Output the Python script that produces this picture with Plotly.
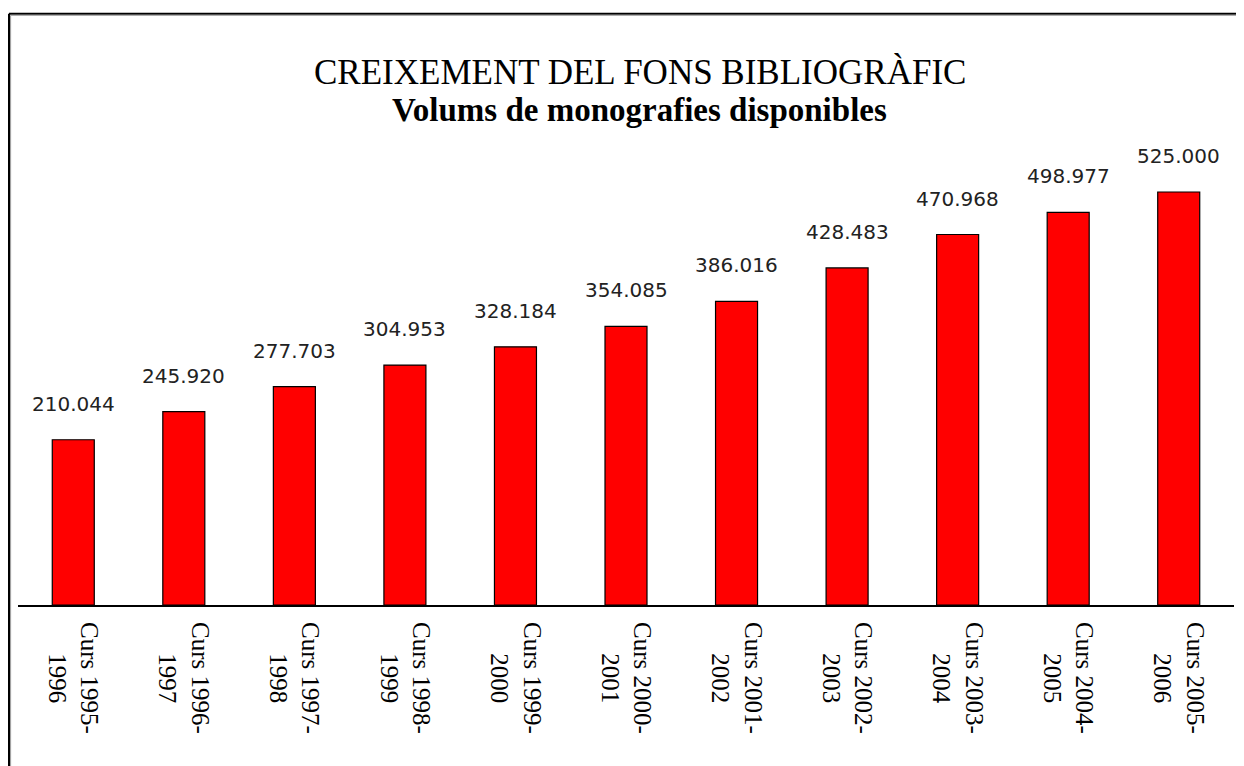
import plotly.graph_objects as go

label_line1 = ["Curs 1995-", "Curs 1996-", "Curs 1997-", "Curs 1998-", "Curs 1999-", "Curs 2000-",
               "Curs 2001-", "Curs 2002-", "Curs 2003-", "Curs 2004-", "Curs 2005-"]
label_line2 = ["1996", "1997", "1998", "1999", "2000", "2001", "2002", "2003", "2004", "2005", "2006"]
volums = [210044, 245920, 277703, 304953, 328184, 354085, 386016, 428483, 470968, 498977, 525000]
title_text = "CREIXEMENT DEL FONS BIBLIOGRÀFIC"
subtitle_text = "Volums de monografies disponibles"


def fmt(v):
    return f"{v:,}".replace(",", ".")


# second line visually centred under the first (non-breaking spaces as indent)
ticktext = [a + "<br>" + "\u00a0" * 5 + b for a, b in zip(label_line1, label_line2)]
xs = list(range(len(volums)))

fig = go.Figure()
fig.add_trace(go.Bar(
    x=xs,
    y=volums,
    width=0.38,
    marker=dict(color="#FF0000", line=dict(color="black", width=1.2)),
    hoverinfo="skip",
))

for i, v in zip(xs, volums):
    fig.add_annotation(x=i, y=v, text=fmt(v), showarrow=False, yanchor="bottom",
                       yshift=22, font=dict(family="DejaVu Sans", size=20, color="#222222"))

fig.add_annotation(x=0.5115, y=1, xref="paper", yref="paper", text=title_text, showarrow=False,
                   xanchor="center", yanchor="middle", yshift=58,
                   font=dict(family="Liberation Serif", size=35, color="black"))
fig.add_annotation(x=0.5115, y=1, xref="paper", yref="paper", text="<b>" + subtitle_text + "</b>",
                   showarrow=False, xanchor="center", yanchor="middle", yshift=20,
                   font=dict(family="Liberation Serif", size=33, color="black"))

# outer frame (left and top edges visible)
W = 1216.0
H = 475.0
fx = (1 - 10) / W
fy = 1 + (122 - 5.7) / H
fig.add_shape(type="line", xref="paper", yref="paper", x0=fx, x1=2.0, y0=fy, y1=fy,
              line=dict(color="black", width=2))
fig.add_shape(type="line", xref="paper", yref="paper", x0=fx, x1=fx, y0=-2.0, y1=fy,
              line=dict(color="black", width=2))
fig.add_shape(type="line", xref="paper", yref="paper", x0=fx + 1.6 / W, x1=2.0, y0=fy - 1.6 / H, y1=fy - 1.6 / H,
              line=dict(color="#999999", width=1))
fig.add_shape(type="line", xref="paper", yref="paper", x0=fx + 1.6 / W, x1=fx + 1.6 / W, y0=-2.0, y1=fy - 1.6 / H,
              line=dict(color="#999999", width=1))

fig.update_layout(
    width=1244, height=766,
    margin=dict(l=10, r=18, t=122, b=169),
    paper_bgcolor="white", plot_bgcolor="white",
    showlegend=False,
    xaxis=dict(
        range=[-0.5, len(volums) - 0.5],
        tickmode="array", tickvals=xs, ticktext=ticktext,
        tickangle=90, ticks="", showline=True, linecolor="black", linewidth=2,
        showgrid=False, zeroline=False,
        tickfont=dict(family="Liberation Serif", size=25, color="black"),
        ticklabelstandoff=10,
    ),
    yaxis=dict(range=[0, 603800], visible=False, showgrid=False, zeroline=False),
)

fig.write_html("out.html")
